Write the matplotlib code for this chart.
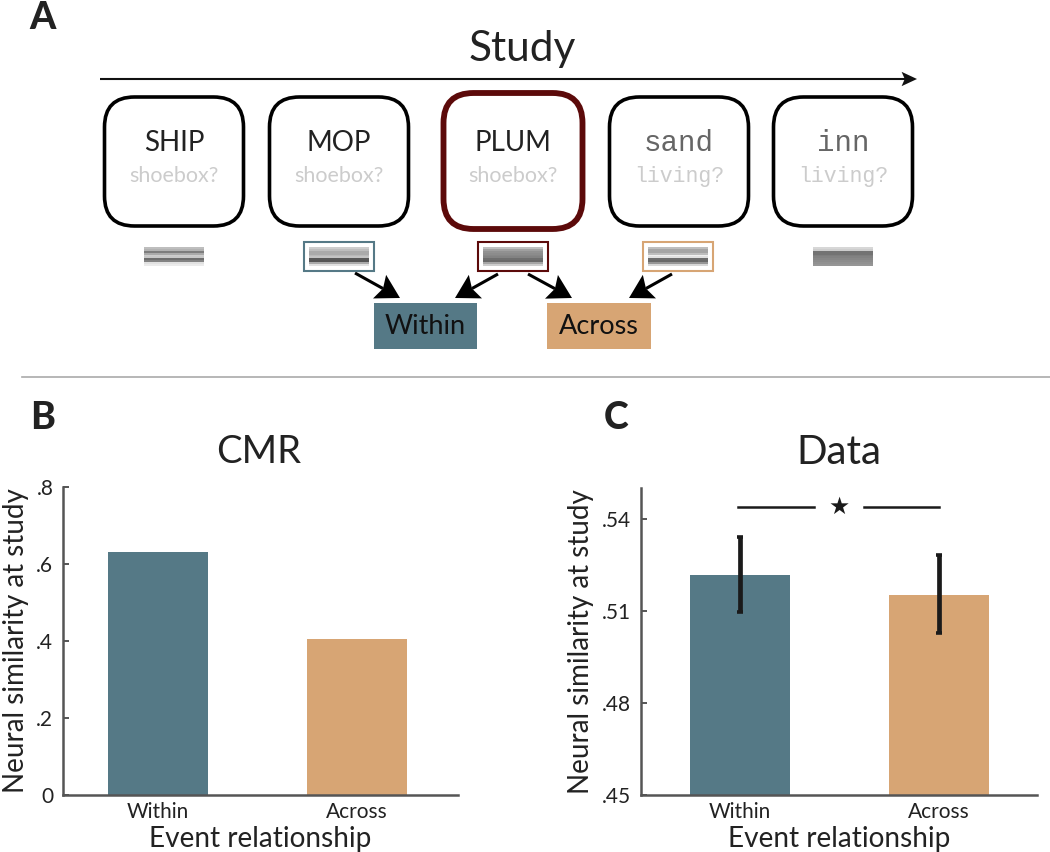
import numpy as np
import matplotlib
matplotlib.use('Agg')
import matplotlib.pyplot as plt
from matplotlib.patches import FancyBboxPatch, Rectangle, Polygon

W, H = 1050, 852
plt.rcParams['font.family'] = ['Lato', 'DejaVu Sans']

# Data
categories = ['Within', 'Across']
cmr_values = [0.631, 0.405]
data_values = [0.5217, 0.5152]
data_err_low = [0.5097, 0.5028]
data_err_high = [0.5341, 0.5283]
cmr_ticks = [0, 0.2, 0.4, 0.6, 0.8]
cmr_ticklabels = ['0', '.2', '.4', '.6', '.8']
data_ticks = [0.45, 0.48, 0.51, 0.54]
data_ticklabels = ['.45', '.48', '.51', '.54']
words = ['SHIP', 'MOP', 'PLUM', 'sand', 'inn']
questions = ['shoebox?', 'shoebox?', 'shoebox?', 'living?', 'living?']

# grey levels of the little activity patterns, top row to bottom
pattern_1 = [190, 178, 125, 170, 205, 200, 110, 130, 225, 235]
pattern_2 = [205, 190, 170, 170, 185, 195, 90, 85, 170, 225]
pattern_3 = [190, 160, 145, 140, 135, 130, 110, 105, 165, 205]
pattern_4 = [190, 165, 165, 190, 240, 225, 110, 105, 150, 215]
pattern_5 = [215, 205, 115, 115, 125, 130, 135, 140, 145, 150]

WITHIN = '#557986'
ACROSS = '#d7a574'
RED = '#5c0a0a'
SPINE = '#555555'
INK = '#222222'


def px_axes(fig, left, right, top, bottom):
    return fig.add_axes([left / W, 1 - bottom / H, (right - left) / W, (bottom - top) / H])


def stealth_arrow(ax, start, tip, head_len, half_angle, lw, color):
    # line with a notched head, in the pixel coordinates of the overlay
    start, tip = np.array(start, float), np.array(tip, float)
    d = (tip - start) / np.linalg.norm(tip - start)
    a = np.radians(half_angle)
    rot = lambda v, t: np.array([v[0] * np.cos(t) - v[1] * np.sin(t), v[0] * np.sin(t) + v[1] * np.cos(t)])
    notch = tip - d * head_len * 0.72
    ax.plot([start[0], notch[0]], [start[1], notch[1]], color=color, lw=lw, solid_capstyle='butt')
    ax.add_patch(Polygon([tip, tip - rot(d, a) * head_len, notch, tip - rot(d, -a) * head_len],
                         closed=True, fc=color, ec='none'))


fig = plt.figure(figsize=(10.5, 8.52), dpi=100)

# Overlay in pixel coordinates for the schematic
ov = fig.add_axes([0, 0, 1, 1])
ov.set_xlim(0, W)
ov.set_ylim(H, 0)
ov.axis('off')

ov.text(29, 29, 'A', fontsize=27, fontweight=900, color=INK)
ov.text(30, 429, 'B', fontsize=27, fontweight=900, color=INK)
ov.text(604, 429, 'C', fontsize=27, fontweight=900, color=INK)

ov.text(522, 61, 'Study', fontsize=30.5, color=INK, ha='center')
stealth_arrow(ov, (100, 79), (917, 79), 17, 25, 1.5, '#111111')

# Word cards
card_left = [104.5, 269.5, 443.5, 609.5, 773.5]
for i, x0 in enumerate(card_left):
    hot = i == 2
    y0, h = (93, 136) if hot else (97, 129)
    cw = 139
    ov.add_patch(FancyBboxPatch((x0 + 30, y0 + 30), cw - 60, h - 60,
                                boxstyle='round,pad=30,rounding_size=30',
                                fc='white', ec=RED if hot else 'black', lw=4.2 if hot else 2.6))
    mono = i >= 3
    fam = ['Liberation Mono'] if mono else ['Lato']
    ov.text(x0 + cw / 2, 151, words[i], fontsize=21 if mono else 20, family=fam,
            color='#666666' if mono else INK, ha='center')
    ov.text(x0 + cw / 2, 182, questions[i], fontsize=15.5, family=fam,
            color='#cccccc', ha='center')

# Activity patterns
patterns = [pattern_1, pattern_2, pattern_3, pattern_4, pattern_5]
pat_left = [144, 309, 483, 648, 813]
for x0, p in zip(pat_left, patterns):
    img = np.array(p, dtype=float).reshape(-1, 1)
    ov.imshow(img, cmap='gray', vmin=0, vmax=255, aspect='auto', interpolation='nearest',
              extent=(x0, x0 + 60, 266, 247), zorder=2)
ov.set_xlim(0, W)
ov.set_ylim(H, 0)

for x0, col in [(304, WITHIN), (478, RED), (643, ACROSS)]:
    ov.add_patch(Rectangle((x0, 242), 70, 29, fc='none', ec=col, lw=1.5, zorder=3))

# Within / Across boxes
ov.add_patch(Rectangle((374, 303), 103, 46, fc=WITHIN, ec='none'))
ov.add_patch(Rectangle((547, 303), 104, 46, fc=ACROSS, ec='none'))
ov.text(425.5, 334, 'Within', fontsize=19.5, color='#111111', ha='center')
ov.text(599, 334, 'Across', fontsize=19.5, color='#111111', ha='center')

arrow_starts = [(355, 273), (498, 274), (528, 274), (672, 274)]
arrow_tips = [(400, 298), (455, 298), (572, 298), (629, 298)]
for s, t in zip(arrow_starts, arrow_tips):
    stealth_arrow(ov, s, t, 27, 30, 2.2, 'black')

ov.plot([22, 1050], [377, 377], color='#aaaaaa', lw=1.2)

# Panel B
ax_b = px_axes(fig, 63, 458, 487, 795)
ax_b.bar([1, 2], cmr_values, width=0.507, color=[WITHIN, ACROSS])
ax_b.set_xlim(1 - 95 / 199, 2 + 101 / 199)
ax_b.set_ylim(0, 0.8)
ax_b.set_yticks(cmr_ticks)
ax_b.set_yticklabels(cmr_ticklabels)
ax_b.set_title('CMR', fontsize=27.5, color=INK, pad=17, x=0.494)

# Panel C
ax_c = px_axes(fig, 641, 1037, 488, 795)
ax_c.bar([1, 2], data_values, width=0.507, color=[WITHIN, ACROSS])
for xi, lo, hi in zip([1, 2], data_err_low, data_err_high):
    ax_c.plot([xi, xi], [lo, hi], color='#1a1a1a', lw=3.4, solid_capstyle='butt')
    ax_c.plot([xi - 0.015, xi + 0.015], [lo, lo], color='#1a1a1a', lw=2.6, solid_capstyle='butt')
    ax_c.plot([xi - 0.015, xi + 0.015], [hi, hi], color='#1a1a1a', lw=2.6, solid_capstyle='butt')
ax_c.set_xlim(1 - 99 / 199, 2 + 98 / 199)
ax_c.set_ylim(0.45, 0.45 + 307 / 92 * 0.03)
ax_c.set_yticks(data_ticks)
ax_c.set_yticklabels(data_ticklabels)
ax_c.set_title('Data', fontsize=29, color=INK, pad=17)

for ax, ylab_x in ((ax_b, (29 - 63) / 395), (ax_c, (594 - 641) / 396)):
    ax.patch.set_alpha(0)
    ax.set_xticks([1, 2])
    ax.set_xticklabels(categories)
    ax.spines['top'].set_visible(False)
    ax.spines['right'].set_visible(False)
    ax.spines['left'].set_color(SPINE)
    ax.spines['bottom'].set_color(SPINE)
    ax.spines['left'].set_linewidth(1.8)
    ax.spines['bottom'].set_linewidth(1.8)
    ax.tick_params(axis='x', length=0, labelsize=15, pad=5, labelcolor=INK)
    ax.tick_params(axis='y', direction='in', length=4, width=1.4, color=SPINE, labelsize=15, pad=7, labelcolor=INK)
    ax.set_xlabel('Event relationship', fontsize=20.2, color=INK, labelpad=3)
    ax.set_ylabel('Neural similarity at study', fontsize=20, color=INK)
    ax.yaxis.set_label_coords(ylab_x, 0.5)

# Significance marker
ov.set_zorder(5)
ov.plot([738, 814], [507, 507], color='#1a1a1a', lw=1.8)
ov.plot([864, 939], [507, 507], color='#1a1a1a', lw=1.8)
ov.text(839, 507, '★', family=['DejaVu Sans'], fontsize=17, color='#1a1a1a', ha='center', va='center')

fig.savefig('out.png', dpi=100)
